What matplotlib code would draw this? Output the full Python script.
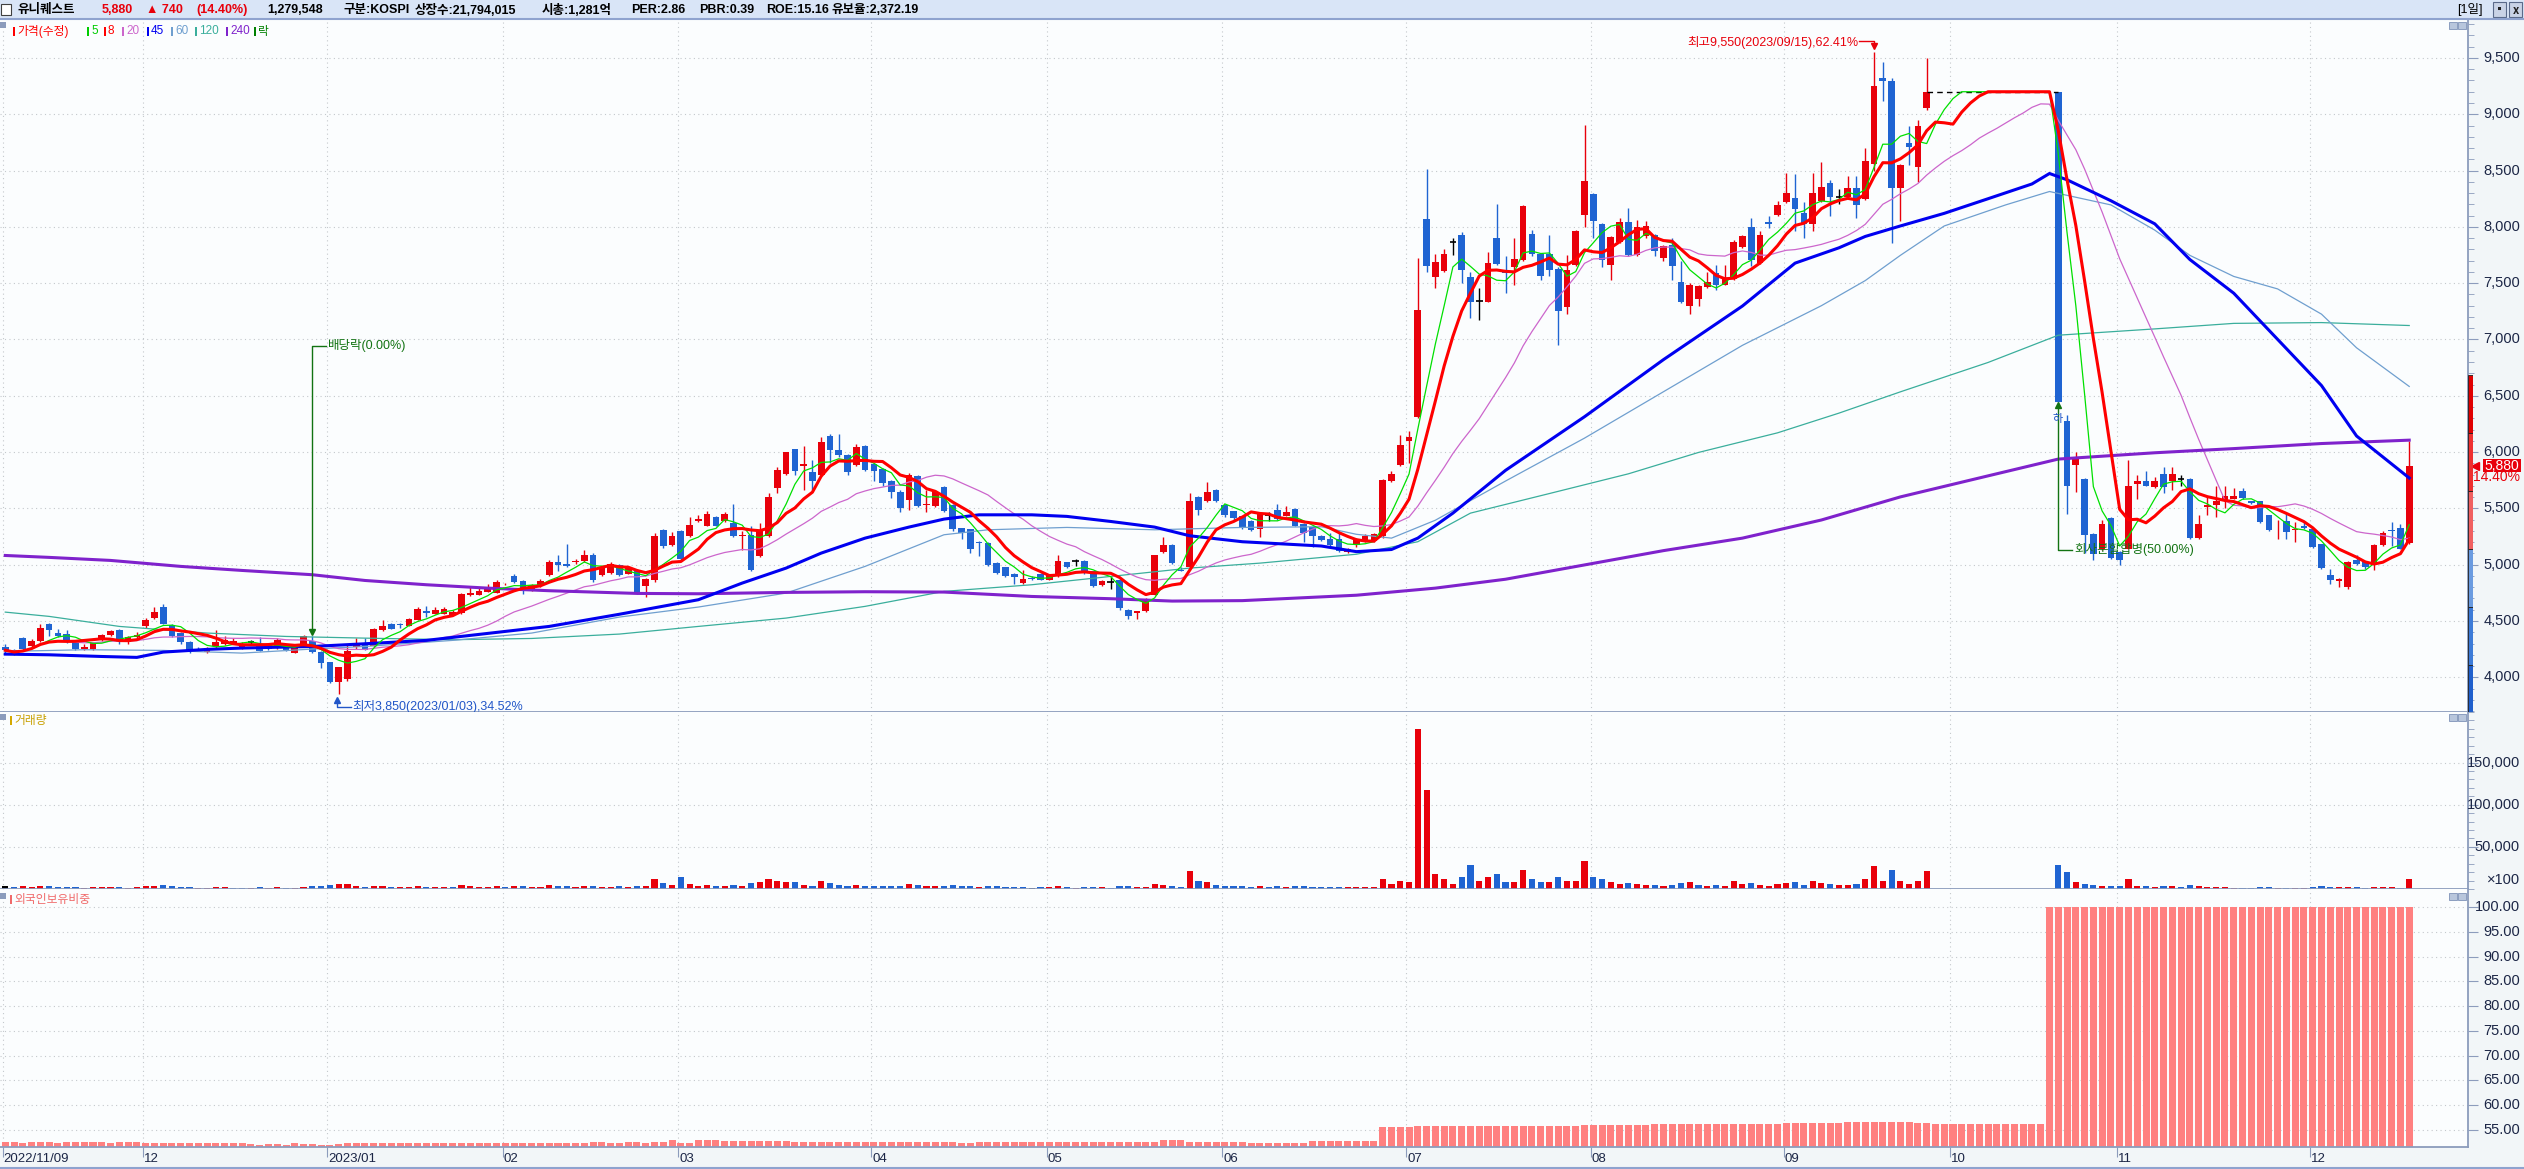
import numpy as np
import pandas as pd
import matplotlib
matplotlib.use("Agg")
import matplotlib.pyplot as plt
import matplotlib.transforms as mtransforms
from matplotlib import font_manager
from matplotlib.patches import Rectangle
from matplotlib.ticker import MultipleLocator

plt.rcParams['font.family'] = ['Noto Sans CJK KR', 'DejaVu Sans']
installed = {f.name for f in font_manager.fontManager.ttflist}
NARROW = ['Liberation Sans Narrow', 'DejaVu Sans'] if 'Liberation Sans Narrow' in installed else ['Liberation Sans', 'DejaVu Sans']
MIXED = ['Liberation Sans', 'Noto Sans CJK KR', 'DejaVu Sans']

nan = float('nan')

# ---------------- data (daily, 2022/11/09 .. 2023/12/18) ----------------
month_pos = [0, 16, 37, 57, 77, 99, 119, 139, 160, 181, 203, 222, 241, 263]
month_lbl = ["2022/11/09", "12", "2023/01", "02", "03", "04", "05", "06",
             "07", "08", "09", "10", "11", "12"]

opens = [
    4270, 4240, 4348, 4275, 4320, 4475, 4393, 4385, 4318, 4255,
    4250, 4334, 4372, 4422, 4310, 4357, 4452, 4530, 4624, 4467,
    4393, 4310, 4250, 4224, 4275, 4298, 4300, 4260, 4313, 4290,
    4290, 4260, 4257, 4220, 4275, 4325, 4224, 4138, 3958, 3984,
    4265, 4300, 4275, 4422, 4475, 4475, 4460, 4511, 4590, 4565,
    4565, 4555, 4570, 4730, 4735, 4760, 4753, 4825, 4900, 4852,
    4772, 4808, 4905, 5023, 5008, 5020, 5030, 5090, 4905, 4925,
    5000, 4920, 4955, 4813, 4866, 5310, 5177, 5301, 5251, 5384,
    5345, 5423, 5384, 5370, 5251, 5266, 5073, 5257, 5677, 5808,
    6027, 5873, 5820, 5800, 6139, 6021, 5970, 5888, 6056, 5893,
    5850, 5745, 5650, 5571, 5790, 5530, 5523, 5690, 5532, 5325,
    5316, 5200, 5192, 5015, 4976, 4920, 4837, 4885, 4920, 4866,
    4896, 5020, 5030, 5030, 4940, 4816, 4850, 4860, 4600, 4575,
    4585, 4733, 5110, 5177, 4955, 4976, 5600, 5562, 5666, 5532,
    5473, 5429, 5390, 5317, 5442, 5483, 5433, 5496, 5363, 5331,
    5258, 5227, 5227, 5109, 5173, 5220, 5211, 5252, 5744, 5886,
    6098, 6314, 8074, 7557, 7608, 7862, 7925, 7557, 7340, 7335,
    7900, 7608, 7646, 7710, 7938, 7763, 7757, 7630, 7290, 7662,
    8106, 8296, 8026, 7662, 7868, 8042, 7747, 7916, 7932, 7725,
    7836, 7513, 7297, 7360, 7465, 7592, 7487, 7535, 7820, 8001,
    7678, 8042, 8106, 8217, 8258, 8122, 8026, 8230, 8391, 8269,
    8269, 8344, 8250, 8560, 9321, 9295, 8344, 8747, 8530, 9052,
    nan, nan, nan, nan, nan, nan, nan, nan, nan, nan,
    nan, nan, nan, nan, 9200, 6274, 5882, 5763, 5274, 5136,
    5416, 5117, 5143, 5714, 5740, 5688, 5807, 5740, 5763, 5759,
    5240, 5509, 5528, 5565, 5584, 5658, 5565, 5565, 5442, 5305,
    5390, 5310, 5340, 5316, 5181, 4912, 4856, 4800, 5043, 5024,
    4994, 5173, 5310, 5330, 5192]

highs = [
    4300, 4255, 4360, 4340, 4475, 4480, 4430, 4420, 4320, 4300,
    4315, 4385, 4420, 4425, 4370, 4400, 4530, 4620, 4650, 4470,
    4400, 4320, 4270, 4270, 4420, 4370, 4345, 4310, 4335, 4357,
    4300, 4350, 4265, 4290, 4380, 4370, 4230, 4140, 4090, 4290,
    4350, 4345, 4440, 4510, 4480, 4480, 4525, 4620, 4630, 4620,
    4620, 4600, 4750, 4800, 4800, 4830, 4860, 4840, 4920, 4860,
    4830, 4870, 5040, 5090, 5185, 5050, 5130, 5100, 4980, 5020,
    5010, 4980, 4960, 4880, 5280, 5315, 5290, 5310, 5420, 5440,
    5475, 5430, 5465, 5535, 5300, 5340, 5370, 5640, 5870, 6000,
    6030, 6050, 5930, 6130, 6160, 6160, 5980, 6075, 6060, 5900,
    5860, 5750, 5660, 5810, 5800, 5660, 5660, 5700, 5540, 5330,
    5320, 5210, 5200, 5020, 4980, 4925, 4950, 4900, 4925, 4915,
    5090, 5025, 5050, 5040, 4945, 4860, 4900, 4865, 4605, 4590,
    4700, 5090, 5250, 5180, 4980, 5640, 5610, 5730, 5670, 5535,
    5480, 5430, 5395, 5470, 5470, 5540, 5520, 5500, 5370, 5340,
    5265, 5280, 5280, 5150, 5240, 5270, 5280, 5760, 5830, 6150,
    6190, 7725, 8510, 7760, 7800, 7900, 7950, 7600, 7460, 7780,
    8200, 7740, 7900, 8190, 7970, 7770, 7930, 7640, 7750, 7970,
    8908, 8300, 8030, 7920, 8080, 8170, 8060, 8050, 7940, 7840,
    7900, 7700, 7500, 7480, 7600, 7660, 7660, 7880, 7930, 8080,
    7960, 8100, 8230, 8480, 8470, 8220, 8480, 8580, 8420, 8340,
    8450, 8450, 8700, 9550, 9460, 9320, 8560, 8900, 8950, 9500,
    nan, nan, nan, nan, nan, nan, nan, nan, nan, nan,
    nan, nan, nan, nan, 9200, 6330, 6000, 5770, 5280, 5400,
    5420, 5120, 5930, 5800, 5830, 5780, 5870, 5870, 5800, 5770,
    5440, 5600, 5700, 5700, 5680, 5680, 5570, 5570, 5445, 5400,
    5460, 5380, 5380, 5320, 5185, 4960, 4880, 5030, 5090, 5030,
    5180, 5300, 5380, 5360, 6100]

lows = [
    4215, 4200, 4245, 4265, 4310, 4370, 4355, 4305, 4240, 4240,
    4245, 4325, 4365, 4300, 4300, 4350, 4440, 4520, 4470, 4360,
    4300, 4220, 4235, 4215, 4255, 4290, 4295, 4255, 4290, 4230,
    4245, 4255, 4235, 4215, 4270, 4220, 4080, 3950, 3850, 3970,
    4250, 4240, 4270, 4415, 4425, 4440, 4455, 4505, 4540, 4560,
    4560, 4550, 4565, 4725, 4730, 4755, 4748, 4820, 4840, 4740,
    4765, 4800, 4900, 4940, 4980, 5010, 5025, 4850, 4900, 4920,
    4900, 4915, 4740, 4710, 4850, 5150, 5170, 5040, 5245, 5380,
    5340, 5340, 5380, 5245, 5130, 4940, 5065, 5250, 5640, 5800,
    5800, 5660, 5660, 5790, 5900, 5960, 5800, 5880, 5830, 5740,
    5700, 5590, 5470, 5490, 5515, 5470, 5515, 5465, 5300, 5230,
    5100, 5080, 4990, 4920, 4890, 4830, 4830, 4860, 4860, 4860,
    4890, 4975, 4990, 4920, 4800, 4810, 4780, 4600, 4520, 4520,
    4580, 4730, 5100, 5010, 4940, 4970, 5440, 5555, 5555, 5420,
    5400, 5320, 5300, 5250, 5390, 5400, 5430, 5340, 5200, 5160,
    5210, 5170, 5110, 5100, 5160, 5200, 5200, 5240, 5730, 5880,
    5900, 6300, 7600, 7460, 7600, 7750, 7500, 7190, 7170, 7330,
    7660, 7410, 7480, 7700, 7740, 7530, 7560, 6950, 7230, 7650,
    8000, 7900, 7640, 7530, 7860, 7740, 7740, 7900, 7740, 7700,
    7530, 7320, 7230, 7300, 7460, 7440, 7480, 7530, 7810, 7650,
    7670, 7990, 8100, 8210, 7960, 7900, 7960, 8220, 8100, 8200,
    8260, 8080, 8240, 8500, 9120, 7860, 8050, 8550, 8400, 9040,
    nan, nan, nan, nan, nan, nan, nan, nan, nan, nan,
    nan, nan, nan, nan, 6441, 5453, 5650, 5100, 5040, 5130,
    5050, 5000, 5140, 5580, 5700, 5680, 5640, 5660, 5700, 5230,
    5230, 5440, 5420, 5500, 5580, 5580, 5540, 5370, 5300, 5230,
    5230, 5200, 5315, 5150, 4960, 4830, 4800, 4780, 5000, 4960,
    4950, 5165, 5170, 5140, 5180]

closes = [
    4240, 4210, 4251, 4320, 4437, 4420, 4363, 4310, 4250, 4268,
    4310, 4378, 4413, 4318, 4357, 4378, 4511, 4580, 4476, 4370,
    4310, 4236, 4240, 4262, 4310, 4333, 4320, 4300, 4313, 4236,
    4255, 4328, 4240, 4280, 4363, 4224, 4126, 3958, 4088, 4236,
    4300, 4245, 4428, 4460, 4430, 4462, 4517, 4610, 4575, 4594,
    4610, 4580, 4742, 4748, 4770, 4785, 4843, 4830, 4843, 4763,
    4816, 4852, 5023, 4994, 4985, 5030, 5090, 4860, 4970, 5008,
    4910, 4970, 4754, 4872, 5257, 5162, 5251, 5050, 5355, 5408,
    5452, 5346, 5446, 5251, 5260, 4950, 5301, 5600, 5843, 5997,
    5828, 5893, 5740, 6086, 6015, 5970, 5820, 6044, 5843, 5828,
    5725, 5642, 5503, 5800, 5523, 5540, 5650, 5473, 5316, 5281,
    5142, 5195, 4994, 4926, 4896, 4887, 4875, 4875, 4866, 4910,
    5030, 4980, 5030, 4926, 4807, 4857, 4850, 4615, 4547, 4585,
    4689, 5088, 5177, 5015, 4940, 5568, 5482, 5645, 5562, 5443,
    5414, 5331, 5306, 5458, 5442, 5410, 5464, 5347, 5284, 5252,
    5220, 5179, 5125, 5141, 5230, 5255, 5274, 5750, 5807, 6066,
    6130, 7265, 7652, 7684, 7757, 7862, 7614, 7329, 7340, 7678,
    7671, 7590, 7719, 8185, 7757, 7567, 7614, 7250, 7620, 7963,
    8407, 8052, 7703, 7906, 8042, 7747, 8001, 8010, 7789, 7830,
    7652, 7335, 7487, 7472, 7513, 7481, 7545, 7868, 7916, 7709,
    7925, 8026, 8191, 8305, 8160, 8026, 8302, 8356, 8264, 8269,
    8344, 8195, 8586, 9250, 9295, 8344, 8549, 8710, 8896, 9200,
    9200, 9200, 9200, 9200, 9200, 9200, 9200, 9200, 9200, 9200,
    9200, 9200, 9200, 9200, 6441, 5703, 5956, 5267, 5099, 5360,
    5061, 5043, 5703, 5740, 5703, 5744, 5688, 5807, 5763, 5240,
    5360, 5528, 5565, 5610, 5614, 5591, 5546, 5378, 5304, 5310,
    5293, 5316, 5322, 5155, 4968, 4867, 4875, 5024, 5006, 4980,
    5173, 5285, 5300, 5140, 5880]

# volume, in units of 100 shares
volume = [
    3000, 2000, 3500, 2500, 4000, 3000, 2000, 2500, 2000, 1500, 2000, 2500, 2000, 2500, 1500, 2000,
    4000, 3500, 4500, 3000, 2500, 2000, 1500, 1500, 2000, 2000, 1500, 1500, 1000, 2000, 1500, 2000,
    1500, 1500, 2500, 3000, 3500,
    5000, 6000, 5500, 3000, 2500, 4000, 3000, 2500, 2000, 2500, 4000, 2500, 2000, 2000, 2000, 5000,
    3000, 2500, 2500, 3500,
    2500, 3000, 3000, 2500, 2500, 5000, 3500, 4000, 2000, 3000, 4000, 2500, 2500, 3000, 2000, 3500,
    3500, 12000, 7000, 5000,
    14000, 6000, 4000, 5000, 4000, 3500, 5000, 3000, 7000, 8000, 12000, 9000, 8000, 8000, 5000, 4000,
    10000, 7000, 5000, 4000, 5000, 4000,
    3500, 4000, 3500, 4000, 6000, 5000, 3000, 3500, 4000, 4500, 3000, 4000, 2500, 4000, 3000, 2500,
    2500, 2000, 1500, 2000,
    2000, 3500, 2000, 1500, 2000, 2500, 2000, 1500, 4000, 3000, 2000, 2500, 6000, 5000, 3000, 2000,
    21000, 10000, 8000, 5000,
    4000, 3000, 3500, 2500, 4000, 2500, 3000, 2000, 3000, 3000, 2500, 2000, 2000, 2500, 2000, 2000,
    2500, 2000, 12000, 6000, 10000,
    8000, 190000, 118000, 18000, 12000, 6000, 14000, 28000, 10000, 14000, 18000, 8000, 8000, 22000,
    12000, 8000, 8000, 14000, 10000, 10000, 33000,
    14000, 12000, 8000, 6000, 7000, 6000, 5000, 5000, 4000, 5000, 7000, 8000, 5000, 4000, 5000, 4000,
    9000, 6000, 7000, 5000, 4000, 6000,
    7000, 8000, 5000, 9000, 7000, 6000, 5000, 5000, 6000, 12000, 27000, 10000, 23000, 10000, 6000,
    10000, 21000, 0, 0,
    0, 0, 0, 0, 0, 0, 0, 0, 0, 0, 0, 0, 28000, 20000, 8000, 6000, 5000, 4000, 4000,
    3000, 12000, 4000, 3000, 2500, 3000, 3500, 2500, 5000, 3000, 2000, 2000, 2000, 1500, 1500, 1500,
    2000, 2500, 1500, 1500, 1500, 1500,
    2000, 3000, 2500, 2000, 2500, 2000, 1500, 2500, 2500, 2000, 1500, 12000]

# foreign ownership ratio (%)
foreign = [
    52.5, 52.5, 52.4, 52.5, 52.5, 52.5, 52.4, 52.5, 52.5, 52.5, 52.5, 52.5, 52.4, 52.5, 52.5, 52.5,
    52.4, 52.4, 52.4, 52.3, 52.4, 52.4, 52.4, 52.4, 52.3, 52.3, 52.3, 52.3, 52.1, 52.0, 52.2, 52.1,
    52.0, 52.3, 52.1, 52.1, 52.0,
    52.0, 52.2, 52.4, 52.4, 52.4, 52.4, 52.4, 52.4, 52.4, 52.4, 52.4, 52.4, 52.4, 52.4, 52.4, 52.4,
    52.4, 52.4, 52.3, 52.3,
    52.3, 52.3, 52.3, 52.3, 52.3, 52.3, 52.3, 52.3, 52.4, 52.4, 52.5, 52.5, 52.4, 52.4, 52.5, 52.5,
    52.4, 52.6, 52.6, 52.9,
    52.3, 52.3, 52.9, 52.9, 52.9, 52.8, 52.8, 52.8, 52.8, 52.8, 52.8, 52.7, 52.7, 52.6, 52.6, 52.6,
    52.6, 52.6, 52.6, 52.6, 52.6, 52.6,
    52.5, 52.5, 52.5, 52.5, 52.6, 52.6, 52.5, 52.5, 52.5, 52.5, 52.4, 52.4, 52.5, 52.5, 52.5, 52.5,
    52.5, 52.5, 52.5, 52.5,
    52.5, 52.5, 52.5, 52.5, 52.5, 52.6, 52.6, 52.6, 52.6, 52.6, 52.6, 52.6, 52.6, 52.9, 52.9, 52.9,
    52.6, 52.6, 52.6, 52.6,
    52.5, 52.5, 52.5, 52.4, 52.4, 52.4, 52.4, 52.4, 52.4, 52.4, 52.8, 52.8, 52.8, 52.8, 52.8, 52.8,
    52.8, 52.8, 55.7, 55.7, 55.7,
    55.7, 55.9, 55.9, 55.9, 55.8, 55.8, 55.8, 55.8, 55.8, 55.8, 55.8, 55.8, 55.8, 55.8, 55.8, 55.9,
    55.9, 55.9, 55.9, 55.9, 56.0,
    56.0, 56.0, 56.1, 56.1, 56.1, 56.1, 56.1, 56.2, 56.2, 56.2, 56.2, 56.2, 56.2, 56.3, 56.3, 56.3,
    56.3, 56.3, 56.3, 56.3, 56.3, 56.3,
    56.4, 56.4, 56.4, 56.5, 56.5, 56.5, 56.5, 56.6, 56.6, 56.6, 56.7, 56.7, 56.7, 56.6, 56.6, 56.5,
    56.5, 56.3, 56.2,
    56.2, 56.2, 56.2, 56.2, 56.2, 56.2, 56.2, 56.2, 56.2, 56.2, 56.2, 100, 100, 100, 100, 100, 100,
    100, 100,
    100, 100, 100, 100, 100, 100, 100, 100, 100, 100, 100, 100, 100, 100, 100, 100, 100, 100, 100,
    100, 100, 100,
    100, 100, 100, 100, 100, 100, 100, 100, 100, 100, 100, 100]

# long moving averages (day index, price)
ma45_idx = [0, 5, 11, 15, 18, 23, 27, 35, 41, 48, 55, 62, 70, 79, 84, 89, 93, 98, 103, 107, 111,
            117, 121, 126, 131, 135, 141, 150, 154, 158, 161, 165, 171, 180, 189, 198, 204, 209,
            212, 216, 221, 226, 231, 233, 235, 240, 245, 249, 254, 259, 264, 268, 274]
ma45_val = [4206, 4200, 4185, 4177, 4224, 4248, 4260, 4274, 4298, 4328, 4390, 4452, 4560, 4689,
            4837, 4970, 5103, 5236, 5334, 5405, 5443, 5443, 5429, 5384, 5334, 5257, 5204, 5166,
            5116, 5135, 5236, 5458, 5838, 6314, 6821, 7297, 7678, 7814, 7915, 8008, 8120, 8250,
            8381, 8474, 8418, 8232, 8027, 7710, 7411, 7001, 6591, 6143, 5770]
ma60_idx = [0, 9, 18, 27, 35, 41, 51, 60, 70, 79, 89, 98, 107, 112, 121, 131, 141, 150, 154, 158,
            163, 171, 180, 189, 198, 207, 212, 216, 221, 228, 233, 240, 245, 249, 254, 259, 264,
            268, 274]
ma60_val = [4230, 4245, 4239, 4215, 4251, 4274, 4328, 4393, 4535, 4624, 4748, 4985, 5266, 5310,
            5331, 5310, 5331, 5337, 5270, 5236, 5395, 5743, 6124, 6536, 6948, 7300, 7523, 7747,
            8008, 8195, 8314, 8195, 7971, 7747, 7560, 7449, 7225, 6926, 6583]
ma120_idx = [0, 5, 13, 23, 32, 41, 51, 60, 70, 79, 89, 98, 107, 117, 126, 135, 143, 154, 161, 167,
             176, 185, 193, 202, 209, 216, 226, 234, 245, 254, 264, 274]
ma120_val = [4579, 4541, 4452, 4393, 4363, 4348, 4334, 4345, 4384, 4452, 4526, 4630, 4763, 4822,
             4896, 4970, 5014, 5093, 5204, 5458, 5632, 5807, 5997, 6171, 6346, 6535, 6796, 7038,
             7094, 7143, 7150, 7124]
ma240_idx = [0, 5, 12, 20, 27, 35, 41, 48, 55, 62, 72, 79, 89, 98, 107, 117, 126, 133, 141, 154,
             163, 171, 180, 189, 198, 207, 216, 226, 234, 245, 254, 264, 274]
ma240_val = [5082, 5065, 5038, 4985, 4949, 4911, 4860, 4822, 4792, 4769, 4745, 4742, 4754, 4760,
             4757, 4718, 4698, 4677, 4681, 4729, 4792, 4871, 4998, 5125, 5236, 5397, 5602, 5789,
             5938, 5994, 6031, 6076, 6106]

# daily price limit band around the previous close
band_edges = [3598, 4112, 4626, 5140, 5654, 6168, 6682]
band_colors = ['#1E5FCC', '#3C7BD8', '#6A9BE0', '#F06060', '#EE3030', '#E00000']

# ---------------- figure ----------------
W, H = 2524, 1169
RED = '#E8000B'
BLUE = '#1F64D2'
EDGE = '#8C9CBC'
LBL = '#1C2646'
GRID = dict(color='#C4C8CC', lw=0.8, ls=(0, (1, 3)))

fig = plt.figure(figsize=(W / 100, H / 100), dpi=100)
fig.patch.set_facecolor('#F2F6F8')


def rect(x0, y0, x1, y1):
    return [x0 / W, 1 - y1 / H, (x1 - x0) / W, (y1 - y0) / H]


def ftext(x, y, s, **kw):
    kw.setdefault('va', 'center')
    fig.text(x / W, 1 - y / H, s, **kw)


def fbox(x0, y0, x1, y1, **kw):
    fig.patches.append(Rectangle((x0 / W, 1 - y1 / H), (x1 - x0) / W, (y1 - y0) / H,
                                 transform=fig.transFigure, **kw))


ax = fig.add_axes(rect(0, 20, 2468, 712))
axv = fig.add_axes(rect(0, 712, 2468, 889), sharex=ax)
axf = fig.add_axes(rect(0, 889, 2468, 1147), sharex=ax)

n = len(closes)
idx = np.arange(n)
o = np.array(opens, float)
h = np.array(highs, float)
l = np.array(lows, float)
c = np.array(closes, float)
cs = pd.Series(c)
ma5 = cs.rolling(5, min_periods=1).mean()
ma8 = cs.rolling(8, min_periods=1).mean()
ma20 = cs.rolling(20, min_periods=1).mean()

for a in (ax, axv, axf):
    a.set_facecolor('#FBFDFE')
    a.set_xlim(-0.6, 280.7)
    for s in ('left', 'top'):
        a.spines[s].set_visible(False)
    for s in ('right', 'bottom'):
        a.spines[s].set_color(EDGE)
        a.spines[s].set_linewidth(1.3)
    a.tick_params(axis='y', which='both', left=False, right=True, labelleft=False,
                  labelright=False, color=EDGE, direction='out')
    a.tick_params(axis='y', which='major', length=7)
    a.tick_params(axis='y', which='minor', length=4)
    a.set_xticks(np.array(month_pos) - 0.3)
    a.grid(True, which='major', **GRID)
    a.set_axisbelow(True)
ax.tick_params(axis='x', bottom=False, labelbottom=False)
axv.tick_params(axis='x', bottom=False, labelbottom=False)
axf.tick_params(axis='x', bottom=True, labelbottom=False, length=7, color=EDGE)

# ---- price panel ----
ax.set_ylim(3692, 9837)
ax.yaxis.set_major_locator(MultipleLocator(500))
ax.yaxis.set_minor_locator(MultipleLocator(100))

traded = ~np.isnan(o)
up = traded & (c > o)
dn = traded & (c < o)
eq = traded & (c == o)
for mask, col in ((up, RED), (dn, BLUE), (eq, 'black')):
    ax.vlines(idx[mask], l[mask], h[mask], color=col, lw=1.0, zorder=2)
ax.bar(idx[up], c[up] - o[up], bottom=o[up], width=0.76, color=RED, lw=0, zorder=2)
ax.bar(idx[dn], o[dn] - c[dn], bottom=c[dn], width=0.76, color=BLUE, lw=0, zorder=2)
ax.hlines(c[eq], idx[eq] - 0.38, idx[eq] + 0.38, color='black', lw=1.2, zorder=2)

halt = np.where(~traded)[0]
ax.plot([halt[0] - 1, halt[-1] + 1], [c[halt[0] - 1]] * 2, ls=(0, (4, 3)),
        color='black', lw=1.0, zorder=2)

ax.plot(ma120_idx, ma120_val, color='#3AAE9C', lw=0.9, zorder=3)
ax.plot(ma60_idx, ma60_val, color='#6F9FCF', lw=0.9, zorder=3)
ax.plot(idx, ma20, color='#CC66CC', lw=0.9, zorder=3)
ax.plot(ma240_idx, ma240_val, color='#7F22CC', lw=2.2, zorder=3)
ax.plot(ma45_idx, ma45_val, color='#0000F0', lw=2.2, zorder=3)
ax.plot(idx, ma5, color='#00E000', lw=0.9, zorder=3)
ax.plot(idx, ma8, color='#FF0000', lw=2.2, zorder=4)

ytr = mtransforms.blended_transform_factory(fig.transFigure, ax.transData)
for v in range(4000, 9501, 500):
    ax.text(2520 / W, v, f"{v:,}", transform=ytr, ha='right', va='center', color=LBL,
            fontsize=10.5, family=NARROW, clip_on=False)

# price-limit band next to the axis
axb = fig.add_axes(rect(2468, 20, 2473, 712), sharey=ax)
axb.axis('off')
axb.bar(np.zeros(len(band_colors)), np.diff(band_edges), bottom=band_edges[:-1], width=1,
        color=band_colors, edgecolor='#202020', lw=0.6)
axb.set_xlim(-0.5, 0.5)

# current price tag
last = c[-1]
ax.add_patch(Rectangle((2483 / W, last - 56), 38 / W, 112, transform=ytr, facecolor=RED,
                       edgecolor='none', clip_on=False))
ax.text(2519 / W, last, f"{last:,.0f}", transform=ytr, ha='right', va='center', color='white',
        fontsize=10, family=NARROW, clip_on=False)
ax.text(2520 / W, last - 105, "14.40%", transform=ytr, ha='right', va='center', color=RED,
        fontsize=10, family=NARROW, clip_on=False)
ax.plot([2475 / W], [last], marker='<', color=RED, ms=6, transform=ytr, clip_on=False)

# annotations
GREEN_T = '#127312'
ex_i = 35
ax.plot([ex_i, ex_i, ex_i + 1.6], [h[ex_i] + 30, 6945, 6945], color=GREEN_T, lw=1.0, zorder=5)
ax.plot(ex_i, h[ex_i] + 30, marker='v', color=GREEN_T, ms=4, zorder=5)
ax.text(ex_i + 1.8, 6945, "배당락(0.00%)", color=GREEN_T, fontsize=9, va='center', zorder=5,
        family=MIXED)

lo_i = int(np.nanargmin(l))
ax.plot([lo_i - 0.2, lo_i - 0.2, lo_i + 1.4], [l[lo_i] - 55, l[lo_i] - 110, l[lo_i] - 110],
        color='#2156C8', lw=1.0)
ax.plot(lo_i - 0.2, l[lo_i] - 55, marker='^', color='#2156C8', ms=4)
ax.text(lo_i + 1.5, l[lo_i] - 105, f"최저{l[lo_i]:,.0f}(2023/01/03),34.52%", color='#2156C8',
        fontsize=9, va='center', family=MIXED)

hi_i = int(np.nanargmax(h))
ax.plot([hi_i - 1.7, hi_i, hi_i], [h[hi_i] + 104, h[hi_i] + 104, h[hi_i] + 55], color=RED, lw=1.0)
ax.plot(hi_i, h[hi_i] + 55, marker='v', color=RED, ms=4)
ax.text(hi_i - 1.8, h[hi_i] + 85, f"최고{h[hi_i]:,.0f}(2023/09/15),62.41%", color=RED,
        fontsize=9, va='center', ha='right', family=MIXED)

sp_i = halt[-1] + 1
ax.plot([sp_i, sp_i, sp_i + 1.6], [l[sp_i] - 25, 5135, 5135], color=GREEN_T, lw=1.0, zorder=5)
ax.plot(sp_i, l[sp_i] - 25, marker='^', color=GREEN_T, ms=4, zorder=5)
ax.text(sp_i - 0.1, l[sp_i] - 150, "하", color='#2156C8', fontsize=8, ha='center', va='center',
        zorder=5)
ax.text(sp_i + 1.8, 5135, "회사분할합병(50.00%)", color=GREEN_T, fontsize=9, va='center', zorder=5,
        family=MIXED)

# ---- volume panel ----
axv.set_ylim(0, 210000)
axv.set_yticks([50000, 100000, 150000])
axv.yaxis.set_minor_locator(MultipleLocator(10000))
c_prev = np.r_[c[0], c[:-1]]
vcol = np.where(c > c_prev, RED, np.where(c < c_prev, BLUE, 'black'))
axv.bar(idx, volume, width=0.7, color=vcol, lw=0, zorder=2)
vtr = mtransforms.blended_transform_factory(fig.transFigure, axv.transData)
for v in (50000, 100000, 150000):
    axv.text(2520 / W, v, f"{v:,}", transform=vtr, ha='right', va='center', color=LBL,
             fontsize=10.5, family=NARROW, clip_on=False)
ftext(2520, 880, "×100", ha='right', color=LBL, fontsize=10.5, family=NARROW)

# ---- foreign ownership panel ----
fb = 51.57
axf.set_ylim(fb, 103.63)
axf.set_yticks(np.arange(55, 101, 5))
axf.bar(idx, np.array(foreign) - fb, bottom=fb, width=0.8, color='#FF8080', lw=0, zorder=2)
ftr = mtransforms.blended_transform_factory(fig.transFigure, axf.transData)
for v in range(55, 101, 5):
    axf.text(2520 / W, v, f"{v:.2f}", transform=ftr, ha='right', va='center', color=LBL,
             fontsize=10.5, family=NARROW, clip_on=False)

# x labels
xtr = mtransforms.blended_transform_factory(axf.transData, fig.transFigure)
for p, s in zip(month_pos, month_lbl):
    axf.text(p - 0.2, 1 - 1159 / H, s, transform=xtr, ha='left', va='center', color=LBL,
             fontsize=9.5, family=NARROW, clip_on=False)

# ---- header / legends / window decorations ----
fbox(0, 0, 2524, 19, facecolor='#D9E5F7', edgecolor='none')
fig.add_artist(plt.Line2D([0, 1], [1 - 19 / H] * 2, color='#8FA3CF', lw=1.5,
                          transform=fig.transFigure))
fig.add_artist(plt.Line2D([0, 1], [1 - 1167.5 / H] * 2, color='#8FA3CF', lw=1.5,
                          transform=fig.transFigure))
fbox(1, 4, 11, 15, facecolor='white', edgecolor='#404040', lw=0.8)
head = [(17, "유니퀘스트", 'black'), (102, "5,880", RED), (146, "▲ 740", RED),
        (196, "(14.40%)", RED), (267, "1,279,548", 'black'), (343, "구분:KOSPI", 'black'),
        (415, "상장수:21,794,015", 'black'), (542, "시총:1,281억", 'black'),
        (631, "PER:2.86", 'black'), (699, "PBR:0.39", 'black'), (766, "ROE:15.16", 'black'),
        (832, "유보율:2,372.19", 'black')]
for x, s, col in head:
    ftext(x, 10, s, color=col, fontsize=9, fontweight='bold', family=MIXED)
ftext(2457, 10, "[1일]", color='black', fontsize=9, family=MIXED)
for x0 in (2493, 2509):
    fbox(x0, 2, x0 + 13, 17, facecolor='#C9D3E6', edgecolor='#5A6A8A', lw=0.8)
ftext(2499.5, 10, "▪", ha='center', color='#202020', fontsize=8)
ftext(2515.5, 10, "x", ha='center', color='#202020', fontsize=8, fontweight='bold')

for y0 in (22, 714, 893):
    fbox(2449, y0, 2457, y0 + 7, facecolor='#B8C6DC', edgecolor='#7F93B8', lw=0.6)
    fbox(2458, y0, 2466, y0 + 7, facecolor='#B8C6DC', edgecolor='#7F93B8', lw=0.6)
    fbox(0, y0, 6, y0 + 6, facecolor='#8C9CBC', edgecolor='none')

legend_items = [(13, "가격(수정)", '#FF0000'), (87, "5", '#00CC00'), (104, "8", '#FF0000'),
                (122, "20", '#CC66CC'), (147, "45", '#0000F0'), (171, "60", '#6F9FCF'),
                (195, "120", '#3AAE9C'), (226, "240", '#7F22CC'), (254, "락", '#008000')]
for x, s, col in legend_items:
    fbox(x, 27, x + 2, 36, facecolor=col, edgecolor='none')
    ftext(x + 4, 31.5, s, color=col, fontsize=8.5, family=MIXED)

fbox(10, 716, 12, 725, facecolor='#D4A800', edgecolor='none')
ftext(14, 720.5, "거래량", color='#C8A000', fontsize=8.5)
fbox(10, 895, 12, 904, facecolor='#F06A6A', edgecolor='none')
ftext(14, 899.5, "외국인보유비중", color='#F06A6A', fontsize=8.5)

fig.savefig("out.png", dpi=100, facecolor=fig.get_facecolor())
